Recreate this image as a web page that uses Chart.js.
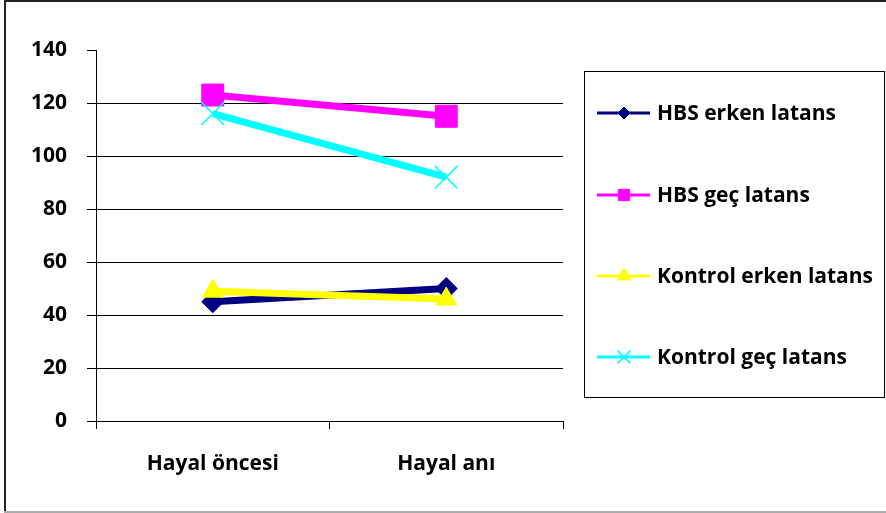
<!DOCTYPE html>
<html>
<head>
<meta charset="utf-8">
<script src="https://cdn.jsdelivr.net/npm/chart.js@4/dist/chart.umd.min.js"></script>
<style>
  html, body { margin: 0; padding: 0; background: #fff; }
  canvas { display: block; }
</style>
</head>
<body>
<canvas id="c" width="886" height="513"></canvas>
<script>
// Categories and series
const categories = ['Hayal öncesi', 'Hayal anı'];
const hbsErken = [45, 50];
const hbsGec = [123, 115];
const kontrolErken = [49, 46];
const kontrolGec = [116, 92];
const seriesNames = ['HBS erken latans', 'HBS geç latans', 'Kontrol erken latans', 'Kontrol geç latans'];
const yTicks = [0, 20, 40, 60, 80, 100, 120, 140];

const FONT = '"Open Sans", "Noto Sans", sans-serif';
const FONT_SIZE = 21;

// Outer frame of the chart
const framePlugin = {
  id: 'frame',
  beforeDraw(chart) {
    const ctx = chart.ctx;
    ctx.save();
    ctx.fillStyle = '#fff';
    ctx.fillRect(0, 0, chart.width, chart.height);
    ctx.fillStyle = '#222';
    ctx.fillRect(4, 0, 2, chart.height);
    ctx.fillRect(4, 0, chart.width - 4, 2);
    ctx.fillStyle = '#aaa';
    ctx.fillRect(4, chart.height - 2, chart.width - 4, 2);
    ctx.restore();
  }
};

function drawMarker(ctx, style, x, y, r, color) {
  ctx.save();
  ctx.fillStyle = color;
  ctx.strokeStyle = color;
  ctx.lineWidth = style === 'crossRot' ? 1.5 : 1;
  Chart.helpers.drawPoint(ctx, { pointStyle: style, radius: r, rotation: 0, borderWidth: ctx.lineWidth }, x, y);
  ctx.restore();
}

// Boxed legend at the right, built from the dataset styles
const boxLegend = {
  id: 'boxLegend',
  afterDraw(chart) {
    const ctx = chart.ctx;
    const box = { x: 584.5, y: 71.5, w: 300, h: 326 };
    ctx.save();
    ctx.strokeStyle = '#000';
    ctx.lineWidth = 1;
    ctx.strokeRect(box.x, box.y, box.w, box.h);
    const rows = [113, 195, 276, 357];
    chart.data.datasets.forEach((ds, i) => {
      const y = rows[i];
      ctx.strokeStyle = ds.borderColor;
      ctx.lineWidth = 3;
      ctx.beginPath();
      ctx.moveTo(597, y);
      ctx.lineTo(650, y);
      ctx.stroke();
      drawMarker(ctx, ds.pointStyle, 624, y, ds.legendRadius, ds.borderColor);
      ctx.fillStyle = '#000';
      ctx.font = 'bold ' + FONT_SIZE + 'px ' + FONT;
      ctx.textBaseline = 'middle';
      ctx.textAlign = 'left';
      ctx.fillText(ds.label, 657, y + 1);
    });
    ctx.restore();
  }
};

const makeSet = (label, data, color, style, radius, legendRadius, order) => ({
  label, data,
  borderColor: color,
  backgroundColor: color,
  borderWidth: 7,
  pointStyle: style,
  pointRadius: radius,
  pointHoverRadius: radius,
  pointBackgroundColor: color,
  pointBorderColor: color,
  pointBorderWidth: style === 'crossRot' ? 1.5 : 1,
  legendRadius,
  tension: 0,
  order
});

new Chart(document.getElementById('c'), {
  type: 'line',
  data: {
    labels: categories,
    datasets: [
      makeSet(seriesNames[0], hbsErken, '#000080', 'rectRot', 11, 6, 4),
      makeSet(seriesNames[1], hbsGec, '#FF00FF', 'rect', 15.5, 8, 3),
      makeSet(seriesNames[2], kontrolErken, '#FFFF00', 'triangle', 12, 8, 2),
      makeSet(seriesNames[3], kontrolGec, '#00FFFF', 'crossRot', 16, 9, 1)
    ]
  },
  options: {
    responsive: false,
    animation: false,
    devicePixelRatio: 1,
    layout: { padding: { left: 0, top: 50, right: 323, bottom: 0 } },
    plugins: {
      legend: { display: false },
      tooltip: { enabled: false }
    },
    scales: {
      x: {
        offset: true,
        afterFit(s) { s.height = 92; },
        grid: {
          offset: true,
          drawOnChartArea: false,
          drawTicks: true,
          tickLength: 8,
          tickColor: '#000'
        },
        border: { display: true, color: '#000', width: 1 },
        ticks: {
          color: '#000',
          font: { family: FONT, size: FONT_SIZE, weight: 'bold' },
          padding: 22,
          maxRotation: 0
        }
      },
      y: {
        min: 0,
        max: 140,
        afterFit(s) { s.width = 96; },
        afterBuildTicks(s) { s.ticks = yTicks.map(v => ({ value: v })); },
        grid: {
          color: c => (c.tick && (c.tick.value === 0 || c.tick.value === 140)) ? 'rgba(0,0,0,0)' : '#000',
          lineWidth: 1,
          drawTicks: true,
          tickLength: 9,
          tickColor: '#000'
        },
        border: { display: true, color: '#000', width: 1 },
        ticks: {
          color: '#000',
          font: { family: FONT, size: FONT_SIZE, weight: 'bold' },
          padding: 20
        }
      }
    }
  },
  plugins: [framePlugin, boxLegend]
});
</script>
</body>
</html>
